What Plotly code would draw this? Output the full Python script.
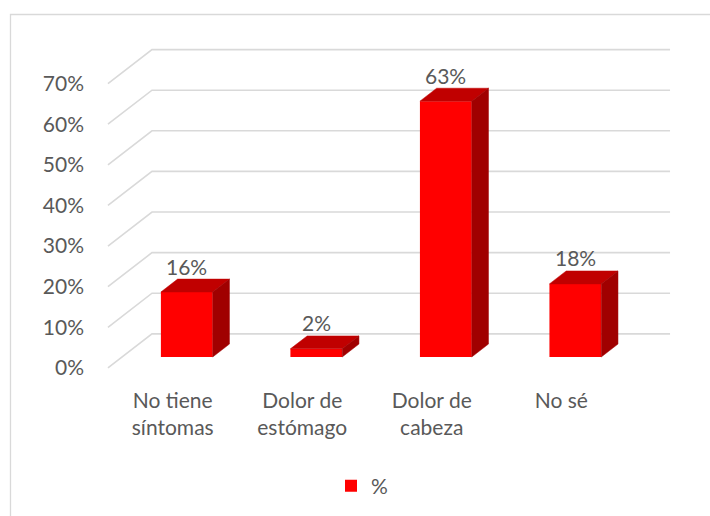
import plotly.graph_objects as go

# ---- data ----
categories = ["No tiene<br>síntomas", "Dolor de<br>estómago", "Dolor de<br>cabeza", "No sé"]
values = [16, 2, 63, 18]
series_name = "%"
y_ticks = [0, 10, 20, 30, 40, 50, 60, 70]
y_tick_labels = ["0%", "10%", "20%", "30%", "40%", "50%", "60%", "70%"]

# ---- styling ----
W, H = 710, 516
FONT = "Lato"
TEXT = "#595959"
GRID = "#D9D9D9"
FRONT, TOP, SIDE = "#FF0000", "#C00000", "#A00000"

# oblique 3-D projection: full floor depth expressed in axis units
DX, DY = 0.34, 8.38
D_FRONT, D_BACK = 0.32, 0.70   # bar depth span (fraction of floor depth)
HALF_W = 0.2                   # half bar width in category units

X_RANGE = [-0.6, 3.5 + DX + 0.1]
Y_RANGE = [-2, 80]
M_L, M_R, M_T, M_B = 95, 27, 43, 140


def proj(x, y, d):
    return x + d * DX, y + d * DY


def to_paper(px, py):
    pw = W - M_L - M_R
    ph = H - M_T - M_B
    return (px - M_L) / pw, (H - M_B - py) / ph


fig = go.Figure()

# back wall and side wall gridlines, kept beneath every trace
x_left, x_right = -0.5, 3.5
for v in y_ticks:
    fx, fy = proj(x_left, v, 0)
    bx, by = proj(x_left, v, 1)
    ex, ey = proj(x_right, v, 1)
    fig.add_shape(type="path", xref="x", yref="y",
                  path=f"M{fx},{fy} L{bx},{by} L{ex},{ey}",
                  line=dict(color=GRID, width=1.6), layer="below")

# front faces of the bars
xs = list(range(len(values)))
front_x = [proj(i, 0, D_FRONT)[0] for i in xs]
fig.add_trace(go.Bar(x=front_x, y=values, base=D_FRONT * DY,
                     width=2 * HALF_W, name=series_name,
                     marker=dict(color=FRONT, line=dict(width=0)),
                     hoverinfo="skip"))

# top and side faces
for i, v in zip(xs, values):
    corners_top = [proj(i - HALF_W, v, D_FRONT), proj(i + HALF_W, v, D_FRONT),
                   proj(i + HALF_W, v, D_BACK), proj(i - HALF_W, v, D_BACK)]
    corners_side = [proj(i + HALF_W, v, D_FRONT), proj(i + HALF_W, v, D_BACK),
                    proj(i + HALF_W, 0, D_BACK), proj(i + HALF_W, 0, D_FRONT)]
    for pts, col in ((corners_top, TOP), (corners_side, SIDE)):
        px = [p[0] for p in pts] + [pts[0][0]]
        py = [p[1] for p in pts] + [pts[0][1]]
        fig.add_trace(go.Scatter(x=px, y=py, mode="lines", fill="toself",
                                 fillcolor=col, line=dict(color=col, width=0.5),
                                 hoverinfo="skip", showlegend=False))

# value labels above each bar
for i, v in zip(xs, values):
    ax, ay = proj(i, v, D_FRONT)
    fig.add_annotation(x=ax, y=ay, text=f"{v}%", showarrow=False,
                       yshift=26, font=dict(family=FONT, size=21, color=TEXT))

# chart frame
fx0, fy0 = to_paper(10.5, 14.5)
fx1, fy1 = to_paper(712, 520)
fig.add_shape(type="rect", xref="paper", yref="paper",
              x0=fx0, y0=fy1, x1=fx1, y1=fy0,
              line=dict(color=GRID, width=1.3), layer="below")

lx, ly = to_paper(362, 486)
fig.update_layout(
    width=W, height=H,
    margin=dict(l=M_L, r=M_R, t=M_T, b=M_B, autoexpand=False),
    paper_bgcolor="white", plot_bgcolor="white",
    font=dict(family=FONT, size=21, color=TEXT),
    barmode="overlay",
    showlegend=True,
    legend=dict(orientation="h", x=lx, y=ly, xanchor="center", yanchor="middle",
                font=dict(family=FONT, size=21, color=TEXT),
                bgcolor="rgba(0,0,0,0)"),
    xaxis=dict(range=X_RANGE, tickmode="array", tickvals=xs, ticktext=categories,
               showgrid=False, zeroline=False, showline=False, ticks="",
               ticklabelstandoff=10, fixedrange=True),
    yaxis=dict(range=Y_RANGE, tickmode="array", tickvals=y_ticks, ticktext=y_tick_labels,
               showgrid=False, zeroline=False, showline=False, ticks="",
               ticklabelstandoff=10, fixedrange=True),
)

fig.write_html("out.html")
